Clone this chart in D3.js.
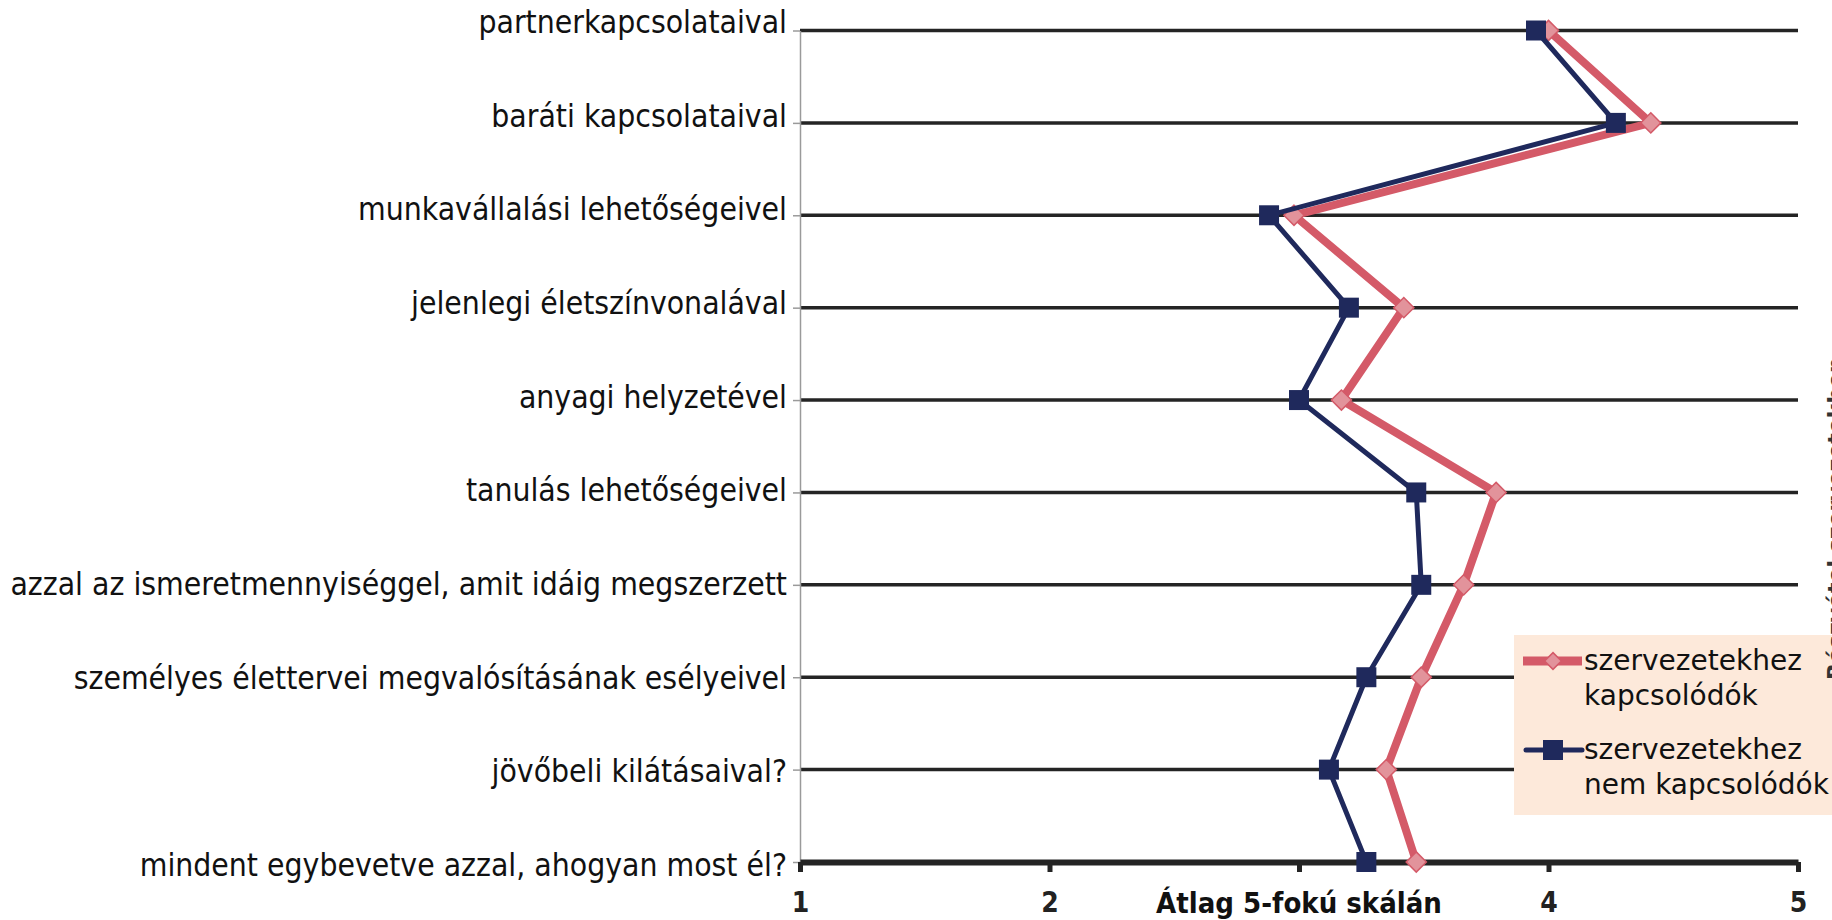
<!DOCTYPE html>
<html>
<head>
<meta charset="utf-8">
<script src="https://cdn.jsdelivr.net/npm/d3@7"></script>
<style>
  html, body { margin: 0; padding: 0; background: #fff; overflow: hidden; }
  svg { display: block; }
</style>
</head>
<body>
<svg id="chart" width="1832" height="920"></svg>
<script>
// ---- data ----
const categories = [
  "partnerkapcsolataival",
  "baráti kapcsolataival",
  "munkavállalási lehetőségeivel",
  "jelenlegi életszínvonalával",
  "anyagi helyzetével",
  "tanulás lehetőségeivel",
  "azzal az ismeretmennyiséggel, amit idáig megszerzett",
  "személyes élettervei megvalósításának esélyeivel",
  "jövőbeli kilátásaival?",
  "mindent egybevetve azzal, ahogyan most él?"
];
const kapcsolodok    = [4.00, 4.41, 2.98, 3.42, 3.17, 3.79, 3.66, 3.49, 3.35, 3.47];
const nemKapcsolodok = [3.95, 4.27, 2.88, 3.20, 3.00, 3.47, 3.49, 3.27, 3.12, 3.27];
const xTicks = [1, 2, 3, 4, 5];
const xTickLabels = ["1", "2", "", "4", "5"]; // the "3" is hidden under the axis title
const xTitle = "Átlag 5-fokú skálán";
const legendLines1 = ["szervezetekhez", "kapcsolódók"];
const legendLines2 = ["szervezetekhez", "nem kapcsolódók"];
const sideText = "Részvétel szervezetekben";

// ---- layout ----
const svg = d3.select("#chart");
const PINK = "#d45a68", PINK_FILL = "#e2939b", NAVY = "#1f295c", GRID = "#242424";
const LABEL_FONT = "'DejaVu Sans Condensed', 'DejaVu Sans', sans-serif";

const x = d3.scaleLinear().domain([1, 5]).range([800, 1798]);
const y = d3.scalePoint().domain(categories).range([30.5, 862]);
const yLab = d3.scalePoint().domain(categories).range([33, 876]);

// gridlines (all but the last, which is the x axis)
svg.append("g").selectAll("line")
  .data(categories.slice(0, -1))
  .join("line")
  .attr("x1", x(1)).attr("x2", x(5))
  .attr("y1", d => y(d)).attr("y2", d => y(d))
  .attr("stroke", GRID).attr("stroke-width", 3.5);

// left axis
const yAxis = svg.append("g").attr("transform", `translate(${x(1)},0)`)
  .call(d3.axisLeft(y).tickSize(7).tickSizeOuter(0).tickFormat(""));
yAxis.select(".domain").attr("stroke", "#9a9a9a").attr("stroke-width", 1.5);
yAxis.selectAll(".tick line").attr("stroke", "#9a9a9a").attr("stroke-width", 1.5);

// category labels
svg.append("g").selectAll("text")
  .data(categories)
  .join("text")
  .attr("x", 787).attr("y", d => yLab(d))
  .attr("text-anchor", "end")
  .attr("font-family", LABEL_FONT)
  .attr("font-size", 31.6)
  .attr("fill", "#111")
  .text(d => d);

// bottom axis
const xAxis = svg.append("g").attr("transform", `translate(0,${y(categories[categories.length - 1])})`)
  .call(d3.axisBottom(x).tickValues(xTicks).tickSize(10).tickSizeOuter(0)
    .tickFormat((d, i) => xTickLabels[i]));
xAxis.select(".domain").attr("stroke", GRID).attr("stroke-width", 6);
xAxis.selectAll(".tick line").attr("stroke", GRID).attr("stroke-width", 5);
xAxis.selectAll(".tick text")
  .attr("y", 50).attr("dy", 0)
  .attr("font-family", LABEL_FONT).attr("font-weight", "bold")
  .attr("font-size", 28).attr("fill", "#222");

// axis title
svg.append("text")
  .attr("x", x(3)).attr("y", 913)
  .attr("text-anchor", "middle")
  .attr("font-family", LABEL_FONT).attr("font-weight", "bold")
  .attr("font-size", 29).attr("fill", "#111")
  .text(xTitle);

// series
const line = d3.line().x(d => x(d.v)).y(d => y(d.c));
const s1 = categories.map((c, i) => ({ c, v: kapcsolodok[i] }));
const s2 = categories.map((c, i) => ({ c, v: nemKapcsolodok[i] }));
const diamond = d3.symbol().type(d3.symbolDiamond2).size(260);
const square = d3.symbol().type(d3.symbolSquare).size(400);

svg.append("path").datum(s1).attr("d", line)
  .attr("fill", "none").attr("stroke", PINK).attr("stroke-width", 8).attr("stroke-linejoin", "round");
svg.append("g").selectAll("path").data(s1).join("path")
  .attr("transform", d => `translate(${x(d.v)},${y(d.c)})`)
  .attr("d", diamond)
  .attr("fill", PINK_FILL).attr("stroke", PINK).attr("stroke-width", 1.5);

svg.append("path").datum(s2).attr("d", line)
  .attr("fill", "none").attr("stroke", NAVY).attr("stroke-width", 5).attr("stroke-linejoin", "round");
svg.append("g").selectAll("path").data(s2).join("path")
  .attr("transform", d => `translate(${x(d.v)},${y(d.c)})`)
  .attr("d", square)
  .attr("fill", NAVY);

// legend
const lg = svg.append("g");
lg.append("rect").attr("x", 1514).attr("y", 635).attr("width", 330).attr("height", 180).attr("fill", "#fde9da");
const legendItems = [
  { lines: legendLines1, color: PINK, width: 9, sym: d3.symbol().type(d3.symbolDiamond2).size(180), fill: PINK_FILL, cy: 661, cap: "butt", x1: 1523 },
  { lines: legendLines2, color: NAVY, width: 5, sym: d3.symbol().type(d3.symbolSquare).size(400), fill: NAVY, cy: 750, cap: "round", x1: 1526 }
];
legendItems.forEach(it => {
  lg.append("line").attr("x1", it.x1).attr("x2", 1582).attr("y1", it.cy).attr("y2", it.cy)
    .attr("stroke", it.color).attr("stroke-width", it.width).attr("stroke-linecap", it.cap);
  lg.append("path").attr("transform", `translate(1553,${it.cy})`).attr("d", it.sym)
    .attr("fill", it.fill).attr("stroke", it.color).attr("stroke-width", it.fill === NAVY ? 0 : 1.5);
  lg.append("text").attr("x", 1584).attr("y", it.cy + 9)
    .attr("font-family", "'DejaVu Sans', sans-serif").attr("font-size", 28).attr("fill", "#111")
    .selectAll("tspan").data(it.lines).join("tspan")
    .attr("x", 1584).attr("dy", (d, i) => i === 0 ? 0 : 35).text(d => d);
});

// side text at the right edge (cut off by the edge, as in the reference)
svg.append("text")
  .attr("transform", "translate(1843,680) rotate(-90)")
  .attr("font-family", "'DejaVu Sans', sans-serif").attr("font-weight", "bold")
  .attr("font-size", 22).attr("fill", "#333")
  .text(sideText);
</script>
</body>
</html>
